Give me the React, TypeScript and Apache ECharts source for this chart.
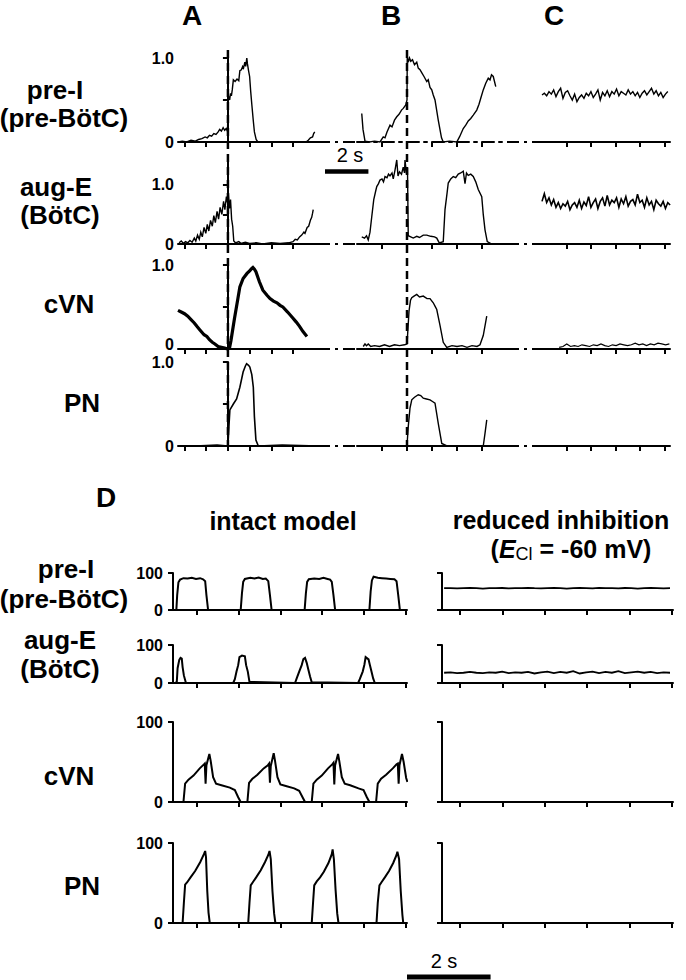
import React, { useEffect, useRef } from "react";
import * as echarts from "echarts";

const FONT = "'Liberation Sans', Arial, Helvetica, sans-serif";

// ---------- Panel A (t in s, 0 = onset) ----------
const A_preI: number[][] = [[-2.3,0],[-2.1,0.01],[-1.9,0],[-1.7,0.02],[-1.5,0.01],[-1.35,0.03],[-1.2,0.04],[-1.05,0.06],[-0.95,0.05],[-0.85,0.08],[-0.75,0.07],[-0.65,0.1],[-0.55,0.09],[-0.45,0.12],[-0.38,0.15],[-0.3,0.13],[-0.22,0.17],[-0.15,0.14],[-0.08,0.16],[-0.02,0.13],[0,0.35],[0.02,0.55],[0.08,0.5],[0.12,0.58],[0.16,0.55],[0.2,0.62],[0.25,0.74],[0.33,0.72],[0.42,0.75],[0.5,0.73],[0.55,0.85],[0.62,0.86],[0.68,0.9],[0.72,0.88],[0.78,0.95],[0.82,0.9],[0.87,1.0],[0.9,0.93],[0.95,0.85],[1.0,0.78],[1.05,0.6],[1.1,0.45],[1.17,0.25],[1.22,0.12],[1.3,0.03],[1.38,0],[2.0,0],[3.0,0],[3.6,0],[3.7,0.02],[3.8,0.05],[3.9,0.06],[3.95,0.1],[4.0,0.12]];
const A_augE: number[][] = [[-2.25,0.02],[-2.15,0.05],[-2.05,0.01],[-1.95,0.04],[-1.85,0.02],[-1.75,0.06],[-1.65,0.03],[-1.55,0.1],[-1.48,0.05],[-1.4,0.15],[-1.32,0.08],[-1.25,0.2],[-1.18,0.12],[-1.1,0.28],[-1.02,0.18],[-0.95,0.33],[-0.88,0.22],[-0.8,0.4],[-0.72,0.3],[-0.65,0.48],[-0.58,0.36],[-0.5,0.55],[-0.43,0.42],[-0.36,0.62],[-0.28,0.5],[-0.2,0.72],[-0.14,0.58],[-0.07,0.8],[-0.02,0.7],[0.02,0.86],[0.07,0.6],[0.12,0.75],[0.17,0.42],[0.22,0.3],[0.27,0.05],[0.35,0.02],[0.5,0.04],[0.6,0.01],[0.8,0.03],[1.0,0.01],[1.3,0.02],[1.6,0],[2.0,0.02],[2.4,0.01],[2.8,0.02],[3.0,0.04],[3.1,0.08],[3.2,0.07],[3.3,0.12],[3.4,0.15],[3.5,0.2],[3.55,0.18],[3.65,0.28],[3.72,0.3],[3.8,0.4],[3.86,0.45],[3.9,0.52],[3.93,0.58]];
const A_cVN: number[][] = [[-2.3,0.46],[-2.15,0.44],[-2.0,0.42],[-1.85,0.39],[-1.7,0.35],[-1.55,0.31],[-1.43,0.27],[-1.3,0.23],[-1.2,0.2],[-1.1,0.17],[-0.97,0.15],[-0.85,0.11],[-0.72,0.08],[-0.6,0.06],[-0.45,0.03],[-0.3,0.02],[-0.15,0.01],[0,0],[0.08,0.02],[0.14,0.1],[0.3,0.36],[0.46,0.6],[0.55,0.74],[0.7,0.84],[0.88,0.9],[1.0,0.93],[1.1,0.96],[1.15,0.97],[1.22,0.95],[1.29,0.92],[1.45,0.8],[1.61,0.7],[1.8,0.64],[1.94,0.6],[2.1,0.57],[2.26,0.55],[2.4,0.52],[2.53,0.5],[2.75,0.44],[2.99,0.37],[3.15,0.32],[3.3,0.27],[3.45,0.21],[3.64,0.15]];
const A_PN: number[][] = [[-2.3,0],[-1.5,0],[-0.5,0.01],[0,0],[0.05,0.25],[0.09,0.43],[0.25,0.5],[0.4,0.56],[0.55,0.7],[0.7,0.88],[0.8,0.95],[0.86,0.98],[0.95,0.96],[1.01,0.94],[1.1,0.85],[1.17,0.7],[1.22,0.35],[1.29,0.07],[1.4,0],[2.5,0.01],[4.15,0]];

// ---------- Panel B ----------
const B_preI: number[][] = [[-1.81,0.34],[-1.76,0.15],[-1.68,0.01],[-1.5,0],[-1.3,0.01],[-1.08,0],[-0.95,0.06],[-0.88,0.05],[-0.8,0.12],[-0.68,0.2],[-0.6,0.18],[-0.5,0.26],[-0.41,0.3],[-0.32,0.33],[-0.22,0.38],[-0.15,0.4],[-0.05,0.44],[0,0.5],[0.01,1.02],[0.05,0.95],[0.1,1.0],[0.15,0.96],[0.22,0.98],[0.3,0.92],[0.39,0.95],[0.45,0.88],[0.52,0.86],[0.6,0.82],[0.68,0.78],[0.79,0.72],[0.85,0.74],[0.92,0.65],[0.99,0.62],[1.05,0.56],[1.12,0.5],[1.25,0.26],[1.38,0.05],[1.45,0],[1.7,0.01],[1.99,0],[2.1,0.06],[2.25,0.16],[2.35,0.2],[2.45,0.25],[2.55,0.28],[2.65,0.32],[2.79,0.38],[2.88,0.45],[2.95,0.52],[3.05,0.62],[3.15,0.7],[3.25,0.76],[3.32,0.74],[3.38,0.8],[3.45,0.78],[3.5,0.72],[3.55,0.66]];
const B_augE: number[][] = [[-1.81,0.12],[-1.7,0.1],[-1.62,0.14],[-1.55,0.07],[-1.48,0.2],[-1.41,0.46],[-1.33,0.75],[-1.25,0.9],[-1.21,0.97],[-1.14,1.02],[-1.08,1.08],[-1.0,1.1],[-0.94,1.05],[-0.88,1.14],[-0.8,1.12],[-0.74,1.18],[-0.68,1.15],[-0.6,1.2],[-0.55,1.1],[-0.48,1.25],[-0.41,1.42],[-0.36,1.15],[-0.3,1.22],[-0.22,1.18],[-0.15,1.3],[-0.1,1.2],[-0.08,1.42],[-0.03,1.22],[0.02,1.25],[0.05,0.14],[0.15,0.12],[0.25,0.1],[0.39,0.13],[0.5,0.11],[0.65,0.15],[0.79,0.15],[0.95,0.13],[1.1,0.12],[1.19,0.1],[1.29,0.02],[1.45,0.04],[1.52,0.58],[1.6,0.85],[1.65,1.03],[1.75,1.1],[1.85,1.14],[1.95,1.12],[2.05,1.18],[2.15,1.2],[2.25,1.23],[2.32,1.02],[2.38,1.2],[2.45,1.16],[2.55,1.18],[2.65,1.14],[2.75,1.05],[2.85,0.92],[2.99,0.8],[3.05,0.5],[3.12,0.24],[3.21,0.04],[3.39,0],[3.99,0]];
const B_cVN: number[][] = [[-1.75,0.03],[-1.68,0.06],[-1.62,0.04],[-1.55,0.06],[-1.45,0.03],[-1.3,0.04],[-1.1,0.03],[-0.9,0.05],[-0.7,0.03],[-0.5,0.05],[-0.3,0.04],[-0.1,0.05],[0,0.06],[0.01,0.1],[0.08,0.45],[0.14,0.58],[0.19,0.61],[0.28,0.63],[0.39,0.65],[0.5,0.62],[0.65,0.63],[0.8,0.6],[0.92,0.6],[1.05,0.55],[1.12,0.51],[1.19,0.47],[1.32,0.28],[1.45,0.08],[1.59,0.02],[1.8,0.04],[2.0,0.03],[2.2,0.04],[2.4,0.02],[2.6,0.04],[2.8,0.03],[2.92,0.05],[3.05,0.16],[3.19,0.39]];
const B_PN: number[][] = [[-1.6,0],[-1.0,0],[-0.5,0],[0,0],[0.01,0.05],[0.05,0.23],[0.12,0.45],[0.19,0.55],[0.3,0.58],[0.45,0.61],[0.55,0.6],[0.65,0.57],[0.78,0.56],[0.92,0.55],[1.02,0.53],[1.12,0.51],[1.25,0.27],[1.39,0.03],[1.6,0],[2.5,0],[3.05,0],[3.12,0.15],[3.19,0.31]];

// ---------- Panel C (sampled traces) ----------
const C_STEP = 0.095;
const C_preI = [0.56,0.58,0.55,0.6,0.57,0.62,0.54,0.6,0.64,0.52,0.59,0.61,0.55,0.5,0.57,0.48,0.53,0.56,0.52,0.58,0.55,0.6,0.53,0.57,0.62,0.5,0.59,0.55,0.61,0.54,0.6,0.57,0.63,0.55,0.6,0.58,0.56,0.62,0.57,0.6,0.55,0.59,0.53,0.58,0.61,0.56,0.6,0.64,0.57,0.61,0.55,0.59,0.53,0.57,0.6];
const C_augE = [0.72,0.85,0.7,0.78,0.66,0.75,0.62,0.7,0.6,0.68,0.64,0.72,0.58,0.66,0.7,0.62,0.74,0.6,0.71,0.65,0.8,0.62,0.7,0.76,0.6,0.72,0.78,0.64,0.82,0.66,0.74,0.7,0.78,0.62,0.76,0.68,0.8,0.64,0.72,0.75,0.66,0.84,0.7,0.74,0.62,0.78,0.66,0.72,0.58,0.74,0.68,0.64,0.72,0.6,0.7,0.66];
const C_cVN_START = 0.7;
const C_cVN_STEP = 0.155;
const C_cVN = [0.02,0.03,0.06,0.03,0.04,0.03,0.05,0.04,0.03,0.05,0.04,0.06,0.04,0.03,0.05,0.04,0.06,0.05,0.04,0.05,0.07,0.05,0.06,0.04,0.06,0.05,0.07,0.06,0.05,0.06];

// ---------- Panel D, intact model (%), t in s ----------
const D_preI: number[][] = [[0,0],[0.08,0],[0.1,40],[0.13,75],[0.17,82],[0.25,86],[0.35,85],[0.45,87],[0.55,84],[0.65,86],[0.72,83],[0.77,78],[0.8,40],[0.84,0],[1.62,0],[1.65,45],[1.68,76],[1.72,84],[1.85,87],[1.95,85],[2.05,88],[2.15,84],[2.22,85],[2.28,78],[2.32,40],[2.36,0],[3.15,0],[3.18,45],[3.21,76],[3.25,83],[3.38,85],[3.5,84],[3.6,87],[3.7,84],[3.76,82],[3.8,76],[3.84,40],[3.88,0],[4.7,0],[4.73,50],[4.76,80],[4.8,90],[4.9,87],[5.0,86],[5.1,85],[5.2,84],[5.3,83],[5.35,78],[5.39,40],[5.43,0],[5.6,0]];
const D_augE: number[][] = [[0.05,0],[0.09,2],[0.11,39],[0.15,61],[0.18,66],[0.21,64],[0.23,42],[0.26,20],[0.31,0],[1.44,0],[1.48,10],[1.52,30],[1.56,47],[1.59,68],[1.65,72],[1.72,70],[1.75,47],[1.79,30],[1.83,3],[2.92,0],[2.96,12],[3.02,30],[3.08,47],[3.12,63],[3.16,66],[3.2,53],[3.24,35],[3.28,17],[3.32,2],[4.43,0],[4.47,10],[4.54,30],[4.58,48],[4.61,68],[4.68,62],[4.71,48],[4.75,30],[4.79,12],[4.83,0]];
const D_cVN: number[][] = [[0.25,0],[0.29,23],[0.37,28],[0.49,33],[0.64,42],[0.74,47],[0.76,48],[0.78,23],[0.8,46],[0.87,60],[0.9,52],[0.96,31],[1.03,23],[1.16,21],[1.36,18],[1.48,15],[1.56,6],[1.62,0],[1.78,0],[1.82,24],[1.9,29],[2.02,34],[2.17,42],[2.27,46],[2.3,48],[2.32,24],[2.34,45],[2.41,61],[2.44,52],[2.5,31],[2.57,22],[2.7,20],[2.9,17],[3.02,14],[3.1,6],[3.16,0],[3.32,0],[3.36,23],[3.44,28],[3.56,33],[3.71,42],[3.81,47],[3.84,49],[3.86,22],[3.88,46],[3.95,60],[3.98,51],[4.04,31],[4.11,23],[4.24,21],[4.44,17],[4.56,15],[4.64,6],[4.7,0],[4.86,0],[4.9,23],[4.98,29],[5.1,34],[5.26,42],[5.35,47],[5.38,48],[5.4,23],[5.42,46],[5.48,60],[5.52,50],[5.58,30],[5.61,25]];
const D_PN: number[][] = [[0.23,0],[0.26,25],[0.29,48],[0.34,51],[0.42,57],[0.53,65],[0.65,76],[0.74,86],[0.77,90],[0.79,82],[0.82,40],[0.85,13],[0.88,0],[1.8,0],[1.83,25],[1.86,47],[1.91,51],[1.99,57],[2.1,66],[2.2,76],[2.28,85],[2.31,90],[2.34,80],[2.38,40],[2.42,12],[2.45,0],[3.32,0],[3.35,24],[3.38,47],[3.44,52],[3.52,57],[3.61,64],[3.72,75],[3.8,86],[3.82,92],[3.85,80],[3.89,42],[3.93,12],[3.96,0],[4.87,0],[4.9,25],[4.94,47],[4.99,51],[5.07,57],[5.17,65],[5.27,75],[5.35,85],[5.37,89],[5.41,80],[5.45,40],[5.49,10],[5.51,0],[5.6,0]];

// ---------- Panel D, reduced inhibition (%) ----------
const DR_START = 0.05;
const DR_STEP = 0.152;
const DR_preI = [59,59,58.5,59,59.5,59,58,59,59,59.5,58.5,59,59,60,59,58.5,59,59.5,59,58,59,59.5,59,58.5,60,59,59,58.5,59.5,59,58,59,59.5,59,58.5,59];
const DR_augE = [27,28,26,27,29,27,26,28,27,30,26,28,27,29,25,28,30,26,29,27,31,25,28,30,26,29,27,31,26,28,30,27,29,26,28,27];

// ---------- axis tick values / labels ----------
const TOP_COLS = [
  { left: 178, width: 140, min: -2.3, max: 4.15, ticks: [-2, -1, 0, 1, 2, 3] },
  { left: 357, width: 150, min: -2, max: 4, ticks: [-1, 0, 1, 2, 3] },
  { left: 542, width: 128, min: 0, max: 5.22, ticks: [1, 2, 3, 4, 5] },
];
const TOP_ROWS = [
  { top: 58, height: 84, max: 1 },
  { top: 157, height: 87, max: 1.47 },
  { top: 265, height: 84, max: 1 },
  { top: 362, height: 84, max: 1 },
];
const TOP_Y_TICKS = [0, 0.5, 1];
const TOP_Y_LABELS = [0, 1];
const D_COLS = [
  { left: 173, width: 234, min: 0, max: 5.6, ticks: [0.57, 1.57, 2.57, 3.57, 4.57, 5.57] },
  { left: 442, width: 231, min: 0, max: 5.44, ticks: [0.42, 1.42, 2.42, 3.42, 4.42, 5.42] },
];
const D_ROWS = [
  { top: 573, height: 37 },
  { top: 645, height: 38 },
  { top: 722, height: 80 },
  { top: 843, height: 80 },
];
const D_Y_TICKS = [0, 100];
const ROW_NAMES = [["pre-I", "(pre-BötC)"], ["aug-E", "(BötC)"], ["cVN"], ["PN"]];

const sampled = (vals: number[], start: number, step: number) => vals.map((v, i) => [start + i * step, v]);

const BLACK = "#000";

function buildOption() {
  const grid: any[] = [];
  const xAxis: any[] = [];
  const yAxis: any[] = [];
  // top panels: index = col*4 + row
  TOP_COLS.forEach((c, ci) => {
    TOP_ROWS.forEach((r, ri) => {
      const gi = grid.length;
      grid.push({ left: c.left, top: r.top, width: c.width, height: r.height });
      xAxis.push({
        type: "value", gridIndex: gi, min: c.min, max: c.max,
        axisLine: { show: true, onZero: false, lineStyle: { color: BLACK, width: 2, type: ci === 1 && ri === 0 ? [12, 5, 3, 5] : "solid" } },
        axisTick: { show: true, customValues: c.ticks, length: 5, lineStyle: { color: BLACK, width: 2 } },
        axisLabel: { show: false }, splitLine: { show: false },
      });
      yAxis.push({
        type: "value", gridIndex: gi, min: 0, max: r.max, show: ci === 0,
        axisLine: { show: true, lineStyle: { color: BLACK, width: 2 } },
        axisTick: { show: true, customValues: TOP_Y_TICKS, length: 5, lineStyle: { color: BLACK, width: 2 } },
        axisLabel: {
          show: true, customValues: TOP_Y_LABELS, margin: 4,
          formatter: (v: number) => (v === 0 ? (ri === 2 ? "{z|0}" : "0") : v.toFixed(1)),
          rich: { z: { fontFamily: FONT, fontWeight: "bold", fontSize: 16, color: BLACK, padding: [0, 0, 9, 0] } },
          color: BLACK, fontFamily: FONT, fontWeight: "bold", fontSize: 16,
        },
        splitLine: { show: false },
      });
    });
  });
  D_COLS.forEach((c, ci) => {
    D_ROWS.forEach((r) => {
      const gi = grid.length;
      grid.push({ left: c.left, top: r.top, width: c.width, height: r.height });
      xAxis.push({
        type: "value", gridIndex: gi, min: c.min, max: c.max,
        axisLine: { show: true, onZero: false, lineStyle: { color: BLACK, width: 2 } },
        axisTick: { show: true, customValues: c.ticks, length: 5, lineStyle: { color: BLACK, width: 2 } },
        axisLabel: { show: false }, splitLine: { show: false },
      });
      yAxis.push({
        type: "value", gridIndex: gi, min: 0, max: 100,
        axisLine: { show: true, lineStyle: { color: BLACK, width: 2 } },
        axisTick: { show: true, customValues: D_Y_TICKS, length: 5, lineStyle: { color: BLACK, width: 2 } },
        axisLabel: {
          show: ci === 0, customValues: D_Y_TICKS, margin: 10,
          color: BLACK, fontFamily: FONT, fontWeight: "bold", fontSize: 16,
        },
        splitLine: { show: false },
      });
    });
  });

  const traces: { g: number; data: number[][]; w: number }[] = [
    { g: 0, data: A_preI, w: 1.4 },
    { g: 1, data: A_augE, w: 1.4 },
    { g: 2, data: A_cVN, w: 3.2 },
    { g: 3, data: A_PN, w: 1.6 },
    { g: 4, data: B_preI, w: 1.4 },
    { g: 5, data: B_augE, w: 1.4 },
    { g: 6, data: B_cVN, w: 1.4 },
    { g: 7, data: B_PN, w: 1.4 },
    { g: 8, data: sampled(C_preI, 0, C_STEP), w: 1.4 },
    { g: 9, data: sampled(C_augE, 0, C_STEP), w: 1.6 },
    { g: 10, data: sampled(C_cVN, C_cVN_START, C_cVN_STEP), w: 1.2 },
    { g: 12, data: D_preI, w: 2 },
    { g: 13, data: D_augE, w: 2 },
    { g: 14, data: D_cVN, w: 2 },
    { g: 15, data: D_PN, w: 2 },
    { g: 16, data: sampled(DR_preI, DR_START, DR_STEP), w: 1.8 },
    { g: 17, data: sampled(DR_augE, DR_START, DR_STEP), w: 1.8 },
  ];
  const series = traces.map((t) => ({
    type: "line", xAxisIndex: t.g, yAxisIndex: t.g, data: t.data,
    symbol: "none", showSymbol: false, clip: false, silent: true,
    lineStyle: { color: BLACK, width: t.w, join: "miter" },
  }));
  return { animation: false, backgroundColor: "#fff", grid, xAxis, yAxis, series };
}

function buildGraphic(chart: any) {
  const px = (ax: number, v: number) => chart.convertToPixel({ xAxisIndex: ax }, v) as number;
  const py = (ax: number, v: number) => chart.convertToPixel({ yAxisIndex: ax }, v) as number;
  const g: any[] = [];
  const txt = (x: number, y: number, text: string, size: number, weight = "bold") =>
    g.push({
      type: "text", x, y, silent: true,
      style: { text, fontFamily: FONT, fontSize: size, fontWeight: weight, fill: BLACK, align: "center", verticalAlign: "middle" },
    });
  const line = (x1: number, y1: number, x2: number, y2: number, width: number, dash?: number[]) =>
    g.push({ type: "line", silent: true, shape: { x1, y1, x2, y2 }, style: { stroke: BLACK, lineWidth: width, lineDash: dash } });

  // panel letters
  txt(192, 15, "A", 28);
  txt(391, 15, "B", 28);
  txt(554, 15, "C", 28);
  txt(106, 497, "D", 28);

  // row labels (top)
  txt(55, 90, ROW_NAMES[0][0], 26);
  txt(64, 118, ROW_NAMES[0][1], 26);
  txt(56, 187, ROW_NAMES[1][0], 26);
  txt(60, 215, ROW_NAMES[1][1], 26);
  txt(69, 304, ROW_NAMES[2][0], 26);
  txt(82, 403, ROW_NAMES[3][0], 26);
  // row labels (D)
  txt(66, 569, ROW_NAMES[0][0], 26);
  txt(64, 599, ROW_NAMES[0][1], 26);
  txt(60, 640, ROW_NAMES[1][0], 26);
  txt(60, 669, ROW_NAMES[1][1], 26);
  txt(69, 776, ROW_NAMES[2][0], 26);
  txt(82, 886, ROW_NAMES[3][0], 26);

  txt(283, 521, "intact model", 25);
  txt(561, 520, "reduced inhibition", 25);
  g.push({
    type: "text", x: 571, y: 549, silent: true,
    style: {
      text: "({e|E}{s|Cl} = -60 mV)", fontFamily: FONT, fontSize: 25, fontWeight: "bold", fill: BLACK,
      align: "center", verticalAlign: "middle",
      rich: {
        e: { fontFamily: FONT, fontSize: 25, fontWeight: "bold", fontStyle: "italic", fill: BLACK },
        s: { fontFamily: FONT, fontSize: 18, fontWeight: "normal", fill: BLACK, padding: [9, 0, 0, 0] },
      },
    },
  });

  // onset dashed lines (t = 0 in A and B)
  const yBottom = py(3, 0);
  [0, 4].forEach((ax) => {
    const x = px(ax, 0);
    line(x, 50, x, yBottom, 2.5, [8, 5]);
  });

  // dash-dot baselines joining A, B and C
  for (let r = 0; r < 4; r++) {
    const y = py(r, 0);
    line(px(r, TOP_COLS[0].max), y, px(4 + r, TOP_COLS[1].min), y, 2, [12, 5, 3, 5]);
    line(px(4 + r, TOP_COLS[1].max), y, px(8 + r, TOP_COLS[2].min), y, 2, [12, 5, 3, 5]);
  }

  // scale bars: 2 s
  const topLen = px(0, 2) - px(0, 0);
  line(325, 171.5, 325 + topLen, 171.5, 4.5);
  txt(350, 155, "2 s", 20, "normal");
  const botLen = px(12, 2) - px(12, 0);
  line(407, 977, 407 + botLen, 977, 5);
  txt(444, 961, "2 s", 20, "normal");
  return g;
}

export default function App() {
  const ref = useRef<HTMLDivElement>(null);
  useEffect(() => {
    document.body.style.margin = "0";
    const chart = echarts.init(ref.current!, null, { renderer: "svg", width: 686, height: 980 });
    chart.setOption(buildOption() as any);
    chart.setOption({ graphic: buildGraphic(chart) } as any);
    return () => chart.dispose();
  }, []);
  return <div ref={ref} style={{ width: 686, height: 980, background: "#fff" }} />;
}
